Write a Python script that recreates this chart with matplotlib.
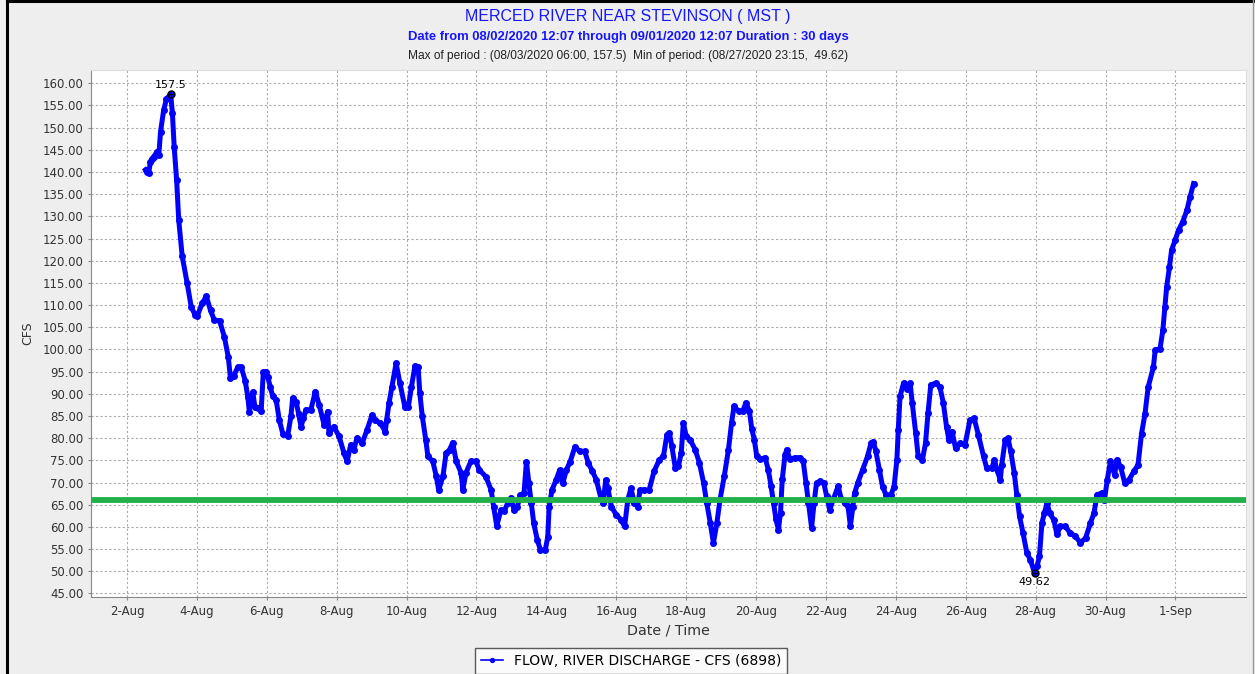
import pandas as pd
import matplotlib
matplotlib.use("Agg")
import matplotlib.pyplot as plt
import matplotlib.dates as mdates

# Данные: сутки от 02.08.2020 00:00 и расход, cfs
start = pd.Timestamp("2020-08-02 00:00")
days = [
    0.53, 0.58, 0.62, 0.67, 0.72, 0.77, 0.86, 0.91, 0.96, 1.05, 1.13, 1.25,
    1.30, 1.35, 1.42, 1.48, 1.58, 1.72, 1.84, 1.95, 2.01, 2.15, 2.27, 2.39,
    2.50, 2.65, 2.79, 2.90, 2.96, 3.05, 3.17, 3.27, 3.38, 3.46, 3.50, 3.55,
    3.60, 3.66, 3.75, 3.84, 3.90, 3.97, 4.03, 4.10, 4.17, 4.27, 4.36, 4.46,
    4.60, 4.69, 4.74, 4.84, 4.91, 4.98, 5.05, 5.12, 5.26, 5.39, 5.50, 5.64,
    5.74, 5.78, 5.92, 6.07, 6.21, 6.30, 6.40, 6.49, 6.58, 6.73, 6.87, 7.01,
    7.10, 7.25, 7.39, 7.43, 7.50, 7.58, 7.70, 7.81, 7.95, 8.05, 8.14, 8.24,
    8.33, 8.38, 8.45, 8.55, 8.61, 8.75, 8.85, 8.92, 9.04, 9.13, 9.23, 9.32,
    9.42, 9.56, 9.61, 9.70, 9.84, 9.98, 10.08, 10.27, 10.42, 10.49, 10.58,
    10.70, 10.79, 10.89, 10.98, 11.08, 11.17, 11.26, 11.36, 11.43, 11.50,
    11.57, 11.64, 11.74, 11.83, 11.97, 12.04, 12.08, 12.16, 12.28, 12.38,
    12.47, 12.57, 12.68, 12.82, 12.96, 13.10, 13.20, 13.32, 13.43, 13.56,
    13.62, 13.70, 13.76, 13.86, 14.00, 14.14, 14.24, 14.33, 14.42, 14.52,
    14.61, 14.68, 14.80, 14.94, 15.08, 15.23, 15.35, 15.45, 15.52, 15.59,
    15.69, 15.78, 15.86, 15.92, 16.00, 16.11, 16.26, 16.38, 16.50, 16.59,
    16.69, 16.78, 16.88, 16.97, 17.09, 17.21, 17.30, 17.37, 17.50, 17.62,
    17.71, 17.81, 17.88, 17.95, 18.02, 18.11, 18.26, 18.35, 18.43, 18.50,
    18.57, 18.64, 18.70, 18.75, 18.83, 18.88, 18.97, 19.11, 19.26, 19.35,
    19.43, 19.50, 19.59, 19.66, 19.73, 19.83, 19.94, 20.02, 20.11, 20.21,
    20.35, 20.44, 20.54, 20.63, 20.70, 20.77, 20.82, 20.91, 21.05, 21.19,
    21.29, 21.36, 21.43, 21.53, 21.62, 21.72, 21.86, 21.95, 22.03, 22.07,
    22.12, 22.22, 22.33, 22.41, 22.47, 22.57, 22.64, 22.76, 22.85, 22.92,
    23.00, 23.14, 23.26, 23.36, 23.45, 23.52, 23.61, 23.71, 23.85, 23.98,
    24.12, 24.24, 24.36, 24.51, 24.60, 24.75, 24.82, 24.91, 24.99, 25.03,
    25.13, 25.21, 25.29, 25.39, 25.46, 25.54, 25.64, 25.75, 25.85, 25.97,
    26.04, 26.11, 26.18, 26.25, 26.33, 26.40, 26.52, 26.61, 26.71, 26.85,
    26.99, 27.14, 27.28, 27.43, 27.57, 27.67, 27.76, 27.90, 27.97, 28.05,
    28.14, 28.26, 28.33, 28.43, 28.55, 28.67, 28.81, 28.93, 29.03, 29.13,
    29.22, 29.37, 29.42, 29.56, 29.64, 29.70, 29.75, 29.83, 29.89, 29.99,
    30.09, 30.21, 30.33, 30.42, 30.52,
]
flow = [
    140.5, 140.0, 139.7, 142.3, 143.0, 143.5, 144.6, 143.8, 149.1, 154.0, 156.5, 157.5,
    153.2, 145.7, 138.2, 129.2, 121.0, 115.0, 109.5, 107.8, 107.5, 110.4, 112.0, 108.8,
    106.6, 106.5, 102.7, 98.2, 93.6, 94.0, 96.0, 96.0, 93.0, 89.2, 86.0, 89.0,
    90.4, 87.0, 86.8, 86.2, 94.9, 95.0, 93.8, 91.5, 89.5, 88.5, 84.0, 81.0,
    80.6, 84.9, 89.0, 88.2, 85.5, 82.6, 84.5, 86.4, 86.4, 90.5, 87.5, 83.0,
    86.0, 81.1, 82.6, 80.4, 76.6, 74.8, 78.5, 77.4, 80.0, 78.9, 81.9, 85.2,
    84.1, 83.4, 81.5, 84.1, 88.0, 91.6, 96.9, 92.4, 87.1, 87.1, 91.6, 96.3,
    96.1, 90.1, 84.9, 79.6, 75.9, 74.8, 71.4, 68.3, 71.4, 76.6, 77.4, 79.0,
    74.8, 72.2, 68.4, 72.2, 74.8, 74.8, 72.9, 71.3, 68.3, 64.6, 60.2,
    63.8, 63.5, 65.3, 66.5, 63.8, 64.6, 67.2, 67.6, 74.7, 69.8,
    65.3, 60.8, 57.1, 54.8, 54.8, 57.8, 64.6, 68.3, 70.6, 72.8,
    69.8, 72.8, 74.7, 78.1, 77.0, 77.0, 74.4, 72.5, 70.6, 66.5,
    65.3, 70.6, 68.7, 64.6, 62.7, 61.6, 60.1, 66.1, 68.7, 65.3,
    64.6, 68.3, 68.3, 68.3, 72.5, 75.1, 75.9, 80.8, 81.2, 78.2,
    73.3, 73.7, 76.7, 83.5, 80.5, 79.7, 77.4, 74.4, 69.9, 65.4,
    60.9, 56.4, 60.9, 66.2, 71.4, 77.4, 83.5, 87.2, 86.1, 86.1,
    88.0, 86.1, 82.0, 79.7, 75.9, 75.2, 75.6, 72.9, 69.2, 65.4,
    61.7, 59.4, 63.2, 70.7, 76.3, 77.4, 75.2, 75.6, 75.6, 74.8,
    69.9, 65.4, 59.8, 65.4, 69.9, 70.3, 69.9, 66.9, 63.9, 66.2,
    69.2, 66.2, 65.4, 64.7, 60.2, 64.6, 67.6, 69.9, 72.9, 75.9,
    78.9, 79.2, 77.0, 72.9, 69.1, 67.2, 67.2, 69.1, 75.1, 81.9,
    89.4, 92.4, 91.2, 92.4, 87.9, 81.1, 75.9, 75.1, 78.9, 85.6,
    92.0, 92.4, 91.6, 87.9, 82.6, 79.6, 81.5, 77.7, 78.9, 78.5,
    84.1, 84.5, 80.8, 75.9, 73.3, 73.3, 75.1, 72.5, 70.6, 74.0,
    79.6, 80.0, 77.0, 72.1, 67.3, 62.4, 58.6, 54.1, 52.6, 49.62,
    51.1, 53.4, 60.9, 63.1, 65.4, 63.1, 61.6, 58.3, 60.1, 60.1,
    58.6, 57.9, 56.4, 57.5, 60.9, 63.1, 67.3, 67.6, 66.1, 70.6,
    74.8, 71.8, 75.1, 73.6, 69.9, 70.6, 72.5, 74.0, 81.0, 85.5,
    91.5, 96.0, 99.8, 100.2, 104.3, 109.6, 114.1, 118.6, 122.4, 124.6,
    126.9, 128.8, 131.4, 134.4, 137.4,
]
threshold = 66.0  # зелёная линия
peak_time, peak_val = pd.Timestamp("2020-08-03 06:00"), 157.5
min_time, min_val = pd.Timestamp("2020-08-27 23:15"), 49.62

times = [start + pd.Timedelta(days=d) for d in days]

W, H = 1255, 674
fig = plt.figure(figsize=(W / 100, H / 100), dpi=100, facecolor="#eeeeee")
ax = fig.add_axes([91 / W, 1 - 597 / H, (1246 - 91) / W, (597 - 70) / H])
ax.set_facecolor("white")

# рамка вокруг рисунка
fig.add_artist(plt.Line2D([7 / W, 7 / W], [0, 1], color="black", lw=2.2, transform=fig.transFigure))
fig.add_artist(plt.Line2D([7 / W, 1253 / W], [1 - 1 / H, 1 - 1 / H], color="black", lw=2.2, transform=fig.transFigure))
fig.add_artist(plt.Line2D([1253 / W, 1253 / W], [0, 1], color="#999999", lw=1, transform=fig.transFigure))

ax.plot(times, flow, color="#0000ff", lw=3.6, marker="o", ms=4,
        label="FLOW, RIVER DISCHARGE - CFS (6898)", zorder=3)
ax.axhline(threshold, color="#22b04b", lw=4.2, zorder=4)

# максимум и минимум
for t, v in [(peak_time, peak_val), (min_time, min_val)]:
    ax.plot([t], [v], marker="o", ms=5, mfc="none", mec="black", mew=1, zorder=5)
    ax.plot([t], [v], marker="+", ms=5, color="black", mew=0.8, zorder=5)
ax.annotate("157.5", (peak_time, peak_val), xytext=(0, 3), textcoords="offset points",
            ha="center", va="bottom", fontsize=8)
ax.annotate("49.62", (min_time, min_val), xytext=(0, -3), textcoords="offset points",
            ha="center", va="top", fontsize=8)

ax.set_xlim(start - pd.Timedelta(days=1.03), start + pd.Timedelta(days=32.02))
ax.set_ylim(44.2, 163.0)
ax.set_yticks(range(45, 161, 5))
ax.yaxis.set_major_formatter(matplotlib.ticker.FormatStrFormatter("%.2f"))
ax.set_xticks([start + pd.Timedelta(days=2 * i) for i in range(16)])
ax.xaxis.set_major_formatter(matplotlib.ticker.FuncFormatter(
    lambda x, pos: "%d-%s" % (mdates.num2date(x).day, mdates.num2date(x).strftime("%b"))))

ax.grid(True, color="#aaaaaa", ls=(0, (2, 2)), lw=0.8)
ax.tick_params(labelsize=8.5, colors="#888888", labelcolor="#333333", length=2)
for s in ["left", "bottom"]:
    ax.spines[s].set_color("#888888")
for s in ["top", "right"]:
    ax.spines[s].set_color("#dddddd")

ax.set_ylabel("CFS", fontsize=9, color="#333333", labelpad=6)
ax.set_xlabel("Date / Time", fontsize=10.3, color="#333333", labelpad=4)

blue = "#1515ff"
fig.text(628 / W, 1 - 16 / H, "MERCED RIVER NEAR STEVINSON ( MST )", color=blue,
         fontsize=11.5, family="Liberation Sans", ha="center", va="center")
fig.text(628 / W, 1 - 37 / H,
         "Date from 08/02/2020 12:07 through 09/01/2020 12:07 Duration : 30 days",
         color=blue, fontsize=9.4, family="Liberation Sans", fontweight="bold",
         ha="center", va="center")
fig.text(628 / W, 1 - 56 / H,
         "Max of period : (08/03/2020 06:00, 157.5)  Min of period: (08/27/2020 23:15,  49.62)",
         color="#222222", fontsize=8.6, family="Liberation Sans", ha="center", va="center")

leg = fig.legend(loc="center", bbox_to_anchor=(631 / W, 1 - 661 / H), fontsize=10,
                 frameon=True, fancybox=False, edgecolor="#333333", handlelength=1.6,
                 borderpad=0.4, markerscale=0.7)
leg.get_frame().set_linewidth(1)
for h in leg.get_lines():
    h.set_linewidth(1.2)

fig.savefig("out.png", dpi=100, facecolor=fig.get_facecolor())
